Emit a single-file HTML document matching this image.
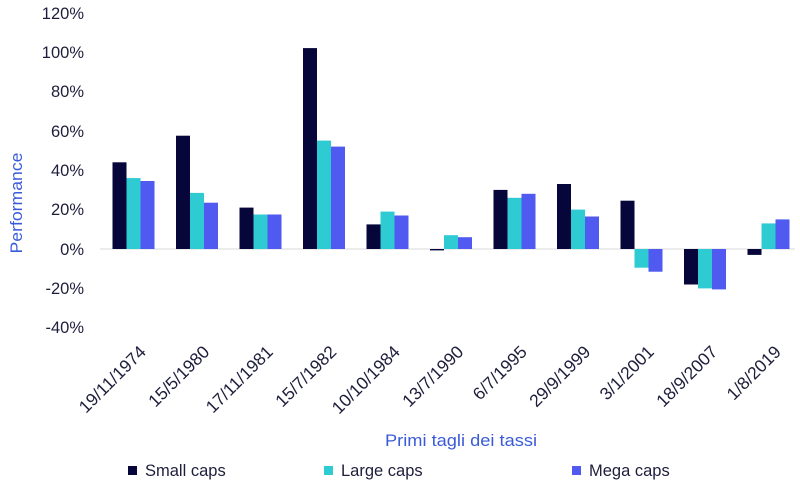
<!DOCTYPE html>
<html><head><meta charset="utf-8"><style>body{margin:0;background:#fff}svg{display:block}text{font-family:"Liberation Sans",sans-serif}</style></head><body>
<svg width="800" height="489" viewBox="0 0 800 489" xmlns="http://www.w3.org/2000/svg">
<g font-size="16.5" fill="#1e1e3c" text-anchor="end">
<text x="84" y="19">120%</text><text x="84" y="58">100%</text><text x="84" y="97">80%</text><text x="84" y="137">60%</text><text x="84" y="176">40%</text><text x="84" y="215">20%</text><text x="84" y="255">0%</text><text x="84" y="294">-20%</text><text x="84" y="333">-40%</text>
</g>
<text transform="translate(22,203) rotate(-90)" font-size="17" fill="#3a5bd9" text-anchor="middle" textLength="101" lengthAdjust="spacingAndGlyphs">Performance</text>
<line x1="100" y1="249" x2="795" y2="249" stroke="#d9d9d9"/>
<g fill="#06063a">
<rect x="112.5" y="162.3" width="14" height="86.7"/>
<rect x="176" y="135.7" width="14" height="113.3"/>
<rect x="239.5" y="207.6" width="14" height="41.4"/>
<rect x="303" y="48.1" width="14" height="200.9"/>
<rect x="366.5" y="224.4" width="14" height="24.6"/>
<rect x="430" y="249" width="14" height="1.4"/>
<rect x="493.5" y="189.9" width="14" height="59.1"/>
<rect x="557" y="184" width="14" height="65"/>
<rect x="620.5" y="200.7" width="14" height="48.3"/>
<rect x="684" y="249" width="14" height="35.5"/>
<rect x="747.5" y="249" width="14" height="5.9"/>
</g>
<g fill="#2ecbd2">
<rect x="126.5" y="178.1" width="14" height="70.9"/>
<rect x="190" y="192.9" width="14" height="56.1"/>
<rect x="253.5" y="214.5" width="14" height="34.5"/>
<rect x="317" y="140.6" width="14" height="108.4"/>
<rect x="380.5" y="211.6" width="14" height="37.4"/>
<rect x="444" y="235.2" width="14" height="13.8"/>
<rect x="507.5" y="197.8" width="14" height="51.2"/>
<rect x="571" y="209.6" width="14" height="39.4"/>
<rect x="634.5" y="249" width="14" height="18.7"/>
<rect x="698" y="249" width="14" height="39.4"/>
<rect x="761.5" y="223.4" width="14" height="25.6"/>
</g>
<g fill="#5059f0">
<rect x="140.5" y="181" width="14" height="68"/>
<rect x="204" y="202.7" width="14" height="46.3"/>
<rect x="267.5" y="214.5" width="14" height="34.5"/>
<rect x="331" y="146.6" width="14" height="102.4"/>
<rect x="394.5" y="215.5" width="14" height="33.5"/>
<rect x="458" y="237.2" width="14" height="11.8"/>
<rect x="521.5" y="193.8" width="14" height="55.2"/>
<rect x="585" y="216.5" width="14" height="32.5"/>
<rect x="648.5" y="249" width="14" height="22.7"/>
<rect x="712" y="249" width="14" height="40.4"/>
<rect x="775.5" y="219.4" width="14" height="29.6"/>
</g>
<g font-size="17.5" fill="#1e1e3c" text-anchor="end">
<text transform="translate(147,353) rotate(-45)">19/11/1974</text>
<text transform="translate(210.5,353) rotate(-45)">15/5/1980</text>
<text transform="translate(274,353) rotate(-45)">17/11/1981</text>
<text transform="translate(337.5,353) rotate(-45)">15/7/1982</text>
<text transform="translate(401,353) rotate(-45)">10/10/1984</text>
<text transform="translate(464.5,353) rotate(-45)">13/7/1990</text>
<text transform="translate(528,353) rotate(-45)">6/7/1995</text>
<text transform="translate(591.5,353) rotate(-45)">29/9/1999</text>
<text transform="translate(655,353) rotate(-45)">3/1/2001</text>
<text transform="translate(718.5,353) rotate(-45)">18/9/2007</text>
<text transform="translate(782,353) rotate(-45)">1/8/2019</text>
</g>
<text x="461" y="446" font-size="17" fill="#3a5bd9" text-anchor="middle" textLength="152" lengthAdjust="spacingAndGlyphs">Primi tagli dei tassi</text>
<g font-size="16.5" fill="#1e1e3c">
<rect x="128" y="466" width="9" height="9" fill="#06063a"/><text x="145" y="476">Small caps</text>
<rect x="324" y="466" width="9" height="9" fill="#2ecbd2"/><text x="341" y="476">Large caps</text>
<rect x="572" y="466" width="9" height="9" fill="#5059f0"/><text x="589" y="476">Mega caps</text>
</g>
</svg></body></html>
